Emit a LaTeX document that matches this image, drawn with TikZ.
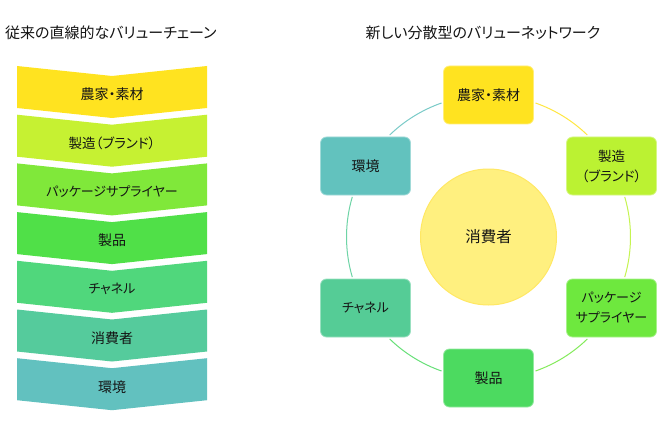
\documentclass[tikz,border=0pt]{standalone}
\usepackage{fontspec}
\setmainfont{Noto Sans CJK JP}[RawFeature=+palt]
\definecolor{cA}{RGB}{255,227,32}
\definecolor{cB}{RGB}{198,241,50}
\definecolor{cC}{RGB}{128,232,58}
\definecolor{cD}{RGB}{80,224,72}
\definecolor{cE}{RGB}{80,215,124}
\definecolor{cF}{RGB}{85,203,156}
\definecolor{cG}{RGB}{98,193,191}
\definecolor{rA}{RGB}{255,227,32}
\definecolor{rB}{RGB}{187,242,50}
\definecolor{rC}{RGB}{110,232,62}
\definecolor{rD}{RGB}{76,218,96}
\definecolor{rE}{RGB}{85,204,150}
\definecolor{rF}{RGB}{98,194,190}
\definecolor{hub}{RGB}{255,240,127}
\definecolor{hubline}{RGB}{255,232,100}
\definecolor{txt}{RGB}{20,20,20}
\newcommand{\kj}{\fontsize{14}{20}\selectfont}
\newcommand{\kn}{\fontsize{13}{20}\selectfont}
\newcommand{\mx}{\fontsize{13.5}{20}\selectfont}
\begin{document}
\begin{tikzpicture}[x=1pt,y=1pt,
  lbl/.style={text=txt,align=center,inner sep=0pt},
  title/.style={text=txt,font=\fontsize{15}{18}\selectfont,inner sep=0pt},
  rbox/.style={lbl,minimum width=90pt,minimum height=58pt,rounded corners=6pt,line width=0.8pt},
  ring/.style={line width=1pt}]
\useasboundingbox (0,0) rectangle (660,429);
\fill[white] (0,0) rectangle (660,429);
% titles
\node[title,anchor=west] (tl) at (5,396) {従来の直線的なバリューチェーン};
\node[title] (tr) at (483,396) {新しい分散型のバリューネットワーク};
% linear chain
\foreach \i/\c/\t/\n in {0/cA/{\kj 農家・素材}/l1,1/cB/{\mx 製造（ブランド）}/l2,2/cC/{\kn パッケージサプライヤー}/l3,3/cD/{\kj 製品}/l4,4/cE/{\kn チャネル}/l5,5/cF/{\kj 消費者}/l6,6/cG/{\kj 環境}/l7}{
  \pgfmathsetmacro{\yt}{429-66-48.7*\i}
  \fill[\c] (17,\yt) -- (112,\yt-10) -- (207,\yt) -- (207,\yt-42) -- (112,\yt-52) -- (17,\yt-42) -- cycle;
  \node[lbl] (\n) at (112,\yt-28.5) {\t};
}
% network
\coordinate (c) at (488.5,192);
\draw[ring,rA!85!white] (c) ++(70.7:142) arc[start angle=70.7,end angle=45.9,radius=142];
\draw[ring,rB!85!white] (c) ++(16.4:142) arc[start angle=16.4,end angle=-16.4,radius=142];
\draw[ring,rC!85!white] (c) ++(-45.9:142) arc[start angle=-45.9,end angle=-70.7,radius=142];
\draw[ring,rD!85!white] (c) ++(-109.3:142) arc[start angle=-109.3,end angle=-134.1,radius=142];
\draw[ring,rE!85!white] (c) ++(-163.6:142) arc[start angle=-163.6,end angle=-196.4,radius=142];
\draw[ring,rF!85!white] (c) ++(134.1:142) arc[start angle=134.1,end angle=109.3,radius=142];
\node[circle,minimum size=136pt,fill=hub,draw=hubline,line width=1pt,text=txt,font=\fontsize{15.5}{18}\selectfont,inner sep=0pt] (hubn) at (c) {消費者};
\node[rbox,fill=rA,draw=rA!60!white,font=\kj] (b1) at (488.5,334) {農家・素材};
\node[rbox,fill=rB,draw=rB!60!white,font=\mx] (b2) at (611.5,263) {製造\\（ブランド）};
\node[rbox,fill=rC,draw=rC!60!white,font=\kn] (b3) at (611.5,121) {パッケージ\\サプライヤー};
\node[rbox,fill=rD,draw=rD!60!white,font=\kj] (b4) at (488.5,51) {製品};
\node[rbox,fill=rE,draw=rE!60!white,font=\kn] (b5) at (365.5,121) {チャネル};
\node[rbox,fill=rF,draw=rF!60!white,font=\kj] (b6) at (365.5,263) {環境};
\end{tikzpicture}
\end{document}
